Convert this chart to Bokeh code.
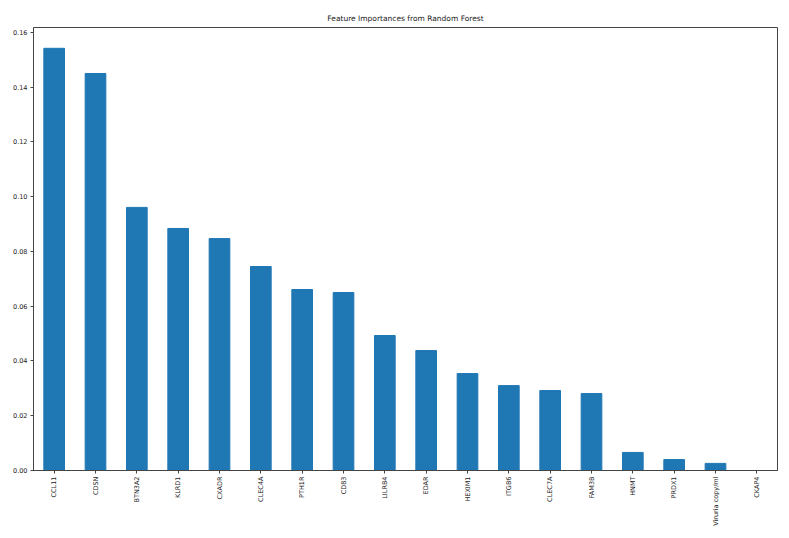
import math
from bokeh.plotting import figure
from bokeh.models import FactorRange, Range1d, FixedTicker, PrintfTickFormatter, ColumnDataSource
from bokeh.embed import file_html
from bokeh.resources import INLINE

features = ["CCL11", "CDSN", "BTN3A2", "KLRD1", "CXADR", "CLEC4A", "PTH1R", "CD83", "LILRB4",
            "EDAR", "HEXIM1", "ITGB6", "CLEC7A", "FAM3B", "HNMT", "PRDX1", "Viruria copy/ml", "CKAP4"]
importances = [0.1542, 0.1450, 0.0961, 0.0884, 0.0847, 0.0745, 0.0661, 0.0650, 0.0493,
               0.0438, 0.0354, 0.0310, 0.0292, 0.0281, 0.0066, 0.0040, 0.0026, 0.0]
y_ticks = [0.0, 0.02, 0.04, 0.06, 0.08, 0.10, 0.12, 0.14, 0.16]

src = ColumnDataSource(dict(x=features, top=importances))

p = figure(width=789, height=538, output_backend="svg", toolbar_location=None,
           x_range=FactorRange(*features, range_padding=0),
           y_range=Range1d(0, 0.1618),
           title="Feature Importances from Random Forest",
           min_border_left=33, min_border_right=12, min_border_top=27, min_border_bottom=68)

p.vbar(x="x", top="top", width=0.5, source=src, color="#1f77b4", line_color="#1f77b4")

p.title.align = "center"
p.title.text_font = "DejaVu Sans"
p.title.text_font_size = "7.5px"
p.title.text_font_style = "normal"
p.title.text_color = "#222222"

p.xgrid.visible = False
p.ygrid.visible = False
p.outline_line_color = "#444444"
p.outline_line_width = 1

p.yaxis.ticker = FixedTicker(ticks=y_ticks)
p.yaxis.formatter = PrintfTickFormatter(format="%.2f")
p.yaxis.minor_tick_line_color = None
p.xaxis.major_label_orientation = math.pi / 2

for ax in (p.xaxis, p.yaxis):
    ax.major_label_text_font = "DejaVu Sans"
    ax.major_label_text_font_size = "6.5px"
    ax.major_label_text_color = "#222222"
    ax.axis_line_color = "#444444"
    ax.major_tick_line_color = "#444444"
    ax.major_tick_out = 3
    ax.major_tick_in = 0
    ax.major_label_standoff = 3

open("out.html", "w").write(file_html(p, INLINE))
